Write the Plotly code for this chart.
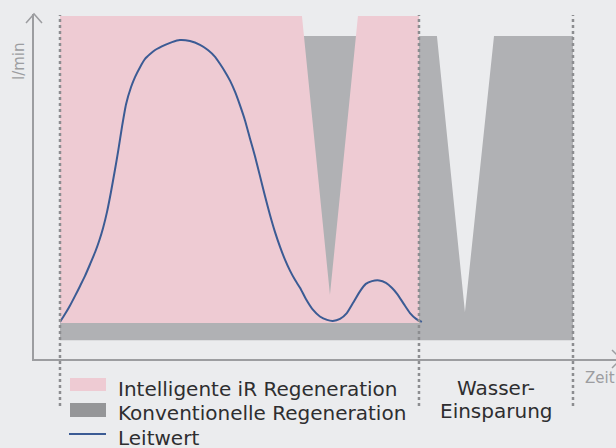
import plotly.graph_objects as go

# ---- data (time in min, flow in relative units) ----
ir_x = [0, 0, 6.74, 7.52, 8.30, 10, 10]
ir_y = [10.5, 100, 100, 18.7, 100, 100, 10.5]

konv_x = [0, 0, 10.50, 11.28, 12.09, 14.29, 14.29]
konv_y = [5.5, 94.2, 94.2, 13.7, 94.2, 94.2, 5.5]

lw_x = [0.00, 0.14, 0.28, 0.42, 0.56, 0.70, 0.84, 0.98, 1.09, 1.20, 1.31, 1.42,
        1.53, 1.62, 1.73, 1.84, 1.98, 2.09, 2.23, 2.37, 2.51, 2.65, 2.93, 3.12,
        3.34, 3.62, 3.90, 4.12, 4.32, 4.46, 4.60, 4.74, 4.88, 5.01, 5.15, 5.29,
        5.43, 5.57, 5.71, 5.85, 5.99, 6.13, 6.27, 6.41, 6.55, 6.69, 6.85, 7.05,
        7.24, 7.44, 7.60, 7.80, 7.99, 8.16, 8.36, 8.52, 8.69, 8.89, 9.08, 9.25,
        9.39, 9.58, 9.75, 9.92, 10.08]
lw_y = [10.8, 13.1, 15.6, 18.4, 21.3, 24.3, 27.7, 31.2, 34.4, 38.2, 42.9, 48.7,
        55.1, 60.6, 67.9, 74.3, 79.3, 82.2, 85.1, 87.5, 88.9, 90.1, 91.6, 92.4,
        93.0, 92.7, 91.6, 90.1, 88.1, 86.0, 83.7, 81.1, 77.8, 74.1, 69.7, 64.4,
        59.2, 53.4, 47.5, 42.0, 37.0, 32.7, 28.9, 25.7, 23.0, 20.7, 17.5, 14.3,
        12.4, 11.4, 11.1, 11.7, 13.4, 16.3, 19.8, 21.9, 22.7, 22.9, 22.2, 20.7,
        19.0, 16.0, 13.4, 11.7, 10.8]

phase_x = [0, 10, 14.29]

legend_labels = ["Intelligente iR Regeneration", "Konventionelle Regeneration", "Leitwert"]
saving_label = ["Wasser-", "Einsparung"]
x_title = "Zeit"
y_title = "l/min"

# ---- styles ----
BG = "#ebecee"
PINK = "#eecbd3"
GRAY = "#b0b1b4"
GRAY_LEG = "#959698"
BLUE = "#3b5b94"
AXIS = "#9c9da0"
DOT = "#8c8d90"
TXT = "#2e2e30"
FONT = "DejaVu Sans"

W, H = 616, 448
ML, MR, MT, MB = 34, 0, 14, 89
PW, PH = W - ML - MR, H - MT - MB


def px(x):
    return (x - ML) / PW


def py(y):
    return (H - MB - y) / PH


fig = go.Figure()
fig.add_trace(go.Scatter(x=konv_x, y=konv_y, fill="toself", fillcolor=GRAY,
                         line=dict(width=0), mode="lines", hoverinfo="skip",
                         name=legend_labels[1], showlegend=False))
fig.add_trace(go.Scatter(x=ir_x, y=ir_y, fill="toself", fillcolor=PINK,
                         line=dict(width=0), mode="lines", hoverinfo="skip",
                         name=legend_labels[0], showlegend=False))
fig.add_trace(go.Scatter(x=lw_x, y=lw_y, mode="lines",
                         line=dict(color=BLUE, width=2, shape="spline", smoothing=0.5),
                         name=legend_labels[2], showlegend=False))

shapes = []
for xv in phase_x:
    shapes.append(dict(type="line", xref="x", yref="paper", x0=xv, x1=xv,
                       y0=py(406), y1=py(15), layer="above",
                       line=dict(color=DOT, width=2.5, dash="dot")))
# axis arrows
shapes.append(dict(type="path", xref="paper", yref="paper",
                   path=f"M {px(26)},{py(23)} L {px(34)},{py(14)} L {px(42)},{py(23)}",
                   line=dict(color=AXIS, width=1.5)))
shapes.append(dict(type="path", xref="paper", yref="paper",
                   path=f"M {px(612)},{py(350)} L {px(621)},{py(359)} L {px(612)},{py(368)}",
                   line=dict(color=AXIS, width=1.5)))
# legend swatches
shapes.append(dict(type="rect", xref="paper", yref="paper", x0=px(70), x1=px(106),
                   y0=py(378), y1=py(391), fillcolor=PINK, line=dict(width=0)))
shapes.append(dict(type="rect", xref="paper", yref="paper", x0=px(70), x1=px(106),
                   y0=py(403), y1=py(417), fillcolor=GRAY_LEG, line=dict(width=0)))
shapes.append(dict(type="line", xref="paper", yref="paper", x0=px(69), x1=px(106),
                   y0=py(434), y1=py(434), line=dict(color=BLUE, width=2)))

annotations = []
for lab, yc in zip(legend_labels, [389, 413, 438]):
    annotations.append(dict(text=lab, xref="paper", yref="paper", x=px(116), y=py(yc),
                            xanchor="left", yanchor="middle", showarrow=False,
                            font=dict(family=FONT, size=20, color=TXT)))
for lab, yc in zip(saving_label, [388, 411]):
    annotations.append(dict(text=lab, xref="paper", yref="paper", x=px(496), y=py(yc),
                            xanchor="center", yanchor="middle", showarrow=False,
                            font=dict(family=FONT, size=20, color=TXT)))
annotations.append(dict(text=x_title, xref="paper", yref="paper", x=px(583), y=py(378),
                        xanchor="left", yanchor="middle", showarrow=False,
                        font=dict(family=FONT, size=15, color=AXIS)))
annotations.append(dict(text=y_title, xref="paper", yref="paper", x=px(19), y=py(61),
                        xanchor="center", yanchor="middle", showarrow=False, textangle=-90,
                        font=dict(family=FONT, size=15, color=AXIS)))

fig.update_layout(
    width=W, height=H,
    margin=dict(l=ML, r=MR, t=MT, b=MB),
    paper_bgcolor=BG, plot_bgcolor=BG,
    showlegend=False,
    shapes=shapes, annotations=annotations,
    xaxis=dict(range=[-0.724, 15.488], showgrid=False, zeroline=False,
               showticklabels=False, ticks="", showline=True,
               linecolor=AXIS, linewidth=1.5, fixedrange=True),
    yaxis=dict(range=[0, 100.6], showgrid=False, zeroline=False,
               showticklabels=False, ticks="", showline=True,
               linecolor=AXIS, linewidth=1.5, fixedrange=True),
)

fig.write_html(
    "out.html",
    config={"displayModeBar": False},
    post_script="document.body.style.margin='0';document.body.style.overflow='hidden';"
                "document.body.style.background='" + BG + "';",
)
